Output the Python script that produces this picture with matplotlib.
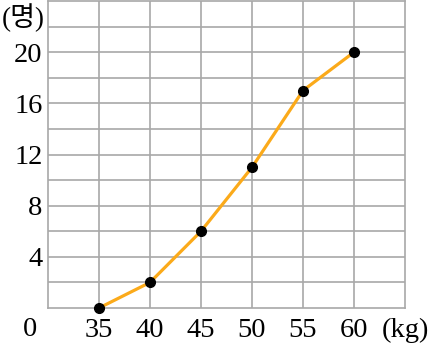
import matplotlib
matplotlib.use("Agg")
import matplotlib.pyplot as plt
import numpy as np

weights = [35, 40, 45, 50, 55, 60]
counts = [0, 2, 6, 11, 17, 20]
x_tick_labels = ["35", "40", "45", "50", "55", "60"]
y_ticks = [4, 8, 12, 16, 20]

fam = ['Liberation Serif', 'Noto Sans CJK KR']
fs = 20.5
fig = plt.figure(figsize=(4.28, 3.49), dpi=100)
ax = fig.add_axes([48/428, 41/349, 357/428, 307/349])

ax.set_xlim(30, 65)
ax.set_ylim(0, 24)
for xv in np.arange(35, 65, 5):
    ax.axvline(xv, color='#a8a8a8', lw=1.2, zorder=1)
for yv in np.arange(2, 24, 2):
    ax.axhline(yv, color='#a8a8a8', lw=1.2, zorder=1)
for s in ax.spines.values():
    s.set_color('#a8a8a8')
    s.set_linewidth(1.2)

ax.plot(weights, counts, color='#FBAA1A', lw=2.3, zorder=3, clip_on=False)
ax.plot(weights, counts, 'o', color='black', ms=7, zorder=4, clip_on=False)

ax.set_xticks(weights)
ax.set_xticklabels(x_tick_labels, family=fam, fontsize=fs)
ax.set_yticks(y_ticks)
ax.set_yticklabels([str(v) for v in y_ticks], family=fam, fontsize=fs)
ax.tick_params(axis='x', length=0, pad=7)
ax.tick_params(axis='y', length=0, pad=4)

ax.text(-18/357, -22/307, "0", transform=ax.transAxes, family=fam, fontsize=fs,
        ha='center', va='center')
ax.text(1.0, -22/307, "(kg)", transform=ax.transAxes, family=fam, fontsize=fs,
        ha='center', va='center')
ax.text(-25/357, 1 - 17/307, "(명)", transform=ax.transAxes, family=fam, fontsize=19.5,
        ha='center', va='center')

fig.savefig("out.png", dpi=100)
